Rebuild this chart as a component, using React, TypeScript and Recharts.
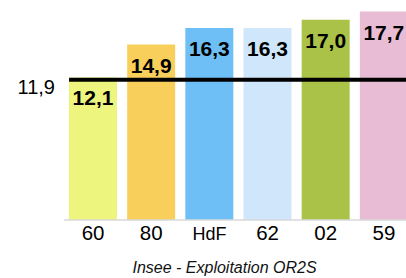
import React from "react";
import { BarChart, Bar, XAxis, YAxis, Cell, LabelList, ReferenceLine } from "recharts";

const categories = ["60", "80", "HdF", "62", "02", "59"];
const values = [12.1, 14.9, 16.3, 16.3, 17.0, 17.7];
const colors = ["#EEF57E", "#F9CF5C", "#6FBFF7", "#D0E6FA", "#AAC247", "#E9BCD5"];
const referenceValue = 11.9;
const yTicks = [referenceValue];
const sourceText = "Insee - Exploitation OR2S";

const data = categories.map((c, i) => ({ name: c, value: values[i] }));

const FONT = "'Liberation Sans', Arial, sans-serif";
const fmt = (v: number) => v.toFixed(1).replace(".", ",");

const XTick = (props: any) => {
  const { x, y, payload } = props;
  const isText = isNaN(Number(payload.value));
  return (
    <text
      x={x}
      y={y + 12}
      textAnchor="middle"
      fontFamily={FONT}
      fontSize={isText ? 18 : 20.5}
      fill="#000"
    >
      {payload.value}
    </text>
  );
};

const YTick = (props: any) => {
  const { x, y, payload } = props;
  return (
    <text x={x - 1} y={y + 14} textAnchor="end" fontFamily={FONT} fontSize={20} fill="#000">
      {fmt(payload.value)}
    </text>
  );
};

const ValueLabel = (props: any) => {
  const { x, y, width, value } = props;
  return (
    <text
      x={x + width / 2}
      y={y + 28}
      textAnchor="middle"
      fontFamily={FONT}
      fontSize={21}
      fontWeight="bold"
      fill="#000"
    >
      {fmt(value)}
    </text>
  );
};

const BAR = 48;

const RefShape = (props: any) => {
  const { x1, x2, y1, y2 } = props;
  const band = (x2 - x1) / categories.length;
  const off = (band - BAR) / 2;
  return <line x1={x1 + off} x2={x2 + 20} y1={y1} y2={y2} stroke="#000" strokeWidth={4} />;
};

export default function App() {
  return (
    <div style={{ position: "absolute", left: 0, top: 0, width: 406, height: 278, overflow: "hidden", background: "#fff" }}>
      <BarChart
        width={420}
        height={278}
        data={data}
        margin={{ top: 8, right: 7, bottom: 28, left: 0 }}
        barSize={BAR}
      >
        <XAxis
          dataKey="name"
          tick={<XTick />}
          tickLine={false}
          axisLine={{ stroke: "#D9D9D9", strokeWidth: 1.5 }}
          height={30}
          interval={0}
        />
        <YAxis
          domain={[0, 18]}
          ticks={yTicks}
          tick={<YTick />}
          tickLine={false}
          axisLine={false}
          width={64}
        />
        <Bar dataKey="value" isAnimationActive={false}>
          {data.map((d, i) => (
            <Cell key={d.name} fill={colors[i]} />
          ))}
          <LabelList dataKey="value" content={<ValueLabel />} />
        </Bar>
        <ReferenceLine y={referenceValue} shape={<RefShape />} ifOverflow="visible" />
      </BarChart>
      <div
        style={{
          position: "absolute",
          left: 74.5,
          top: 259.5,
          width: 300,
          textAlign: "center",
          fontFamily: FONT,
          fontStyle: "italic",
          fontSize: 16,
          lineHeight: "16px",
          color: "#111",
        }}
      >
        {sourceText}
      </div>
    </div>
  );
}
